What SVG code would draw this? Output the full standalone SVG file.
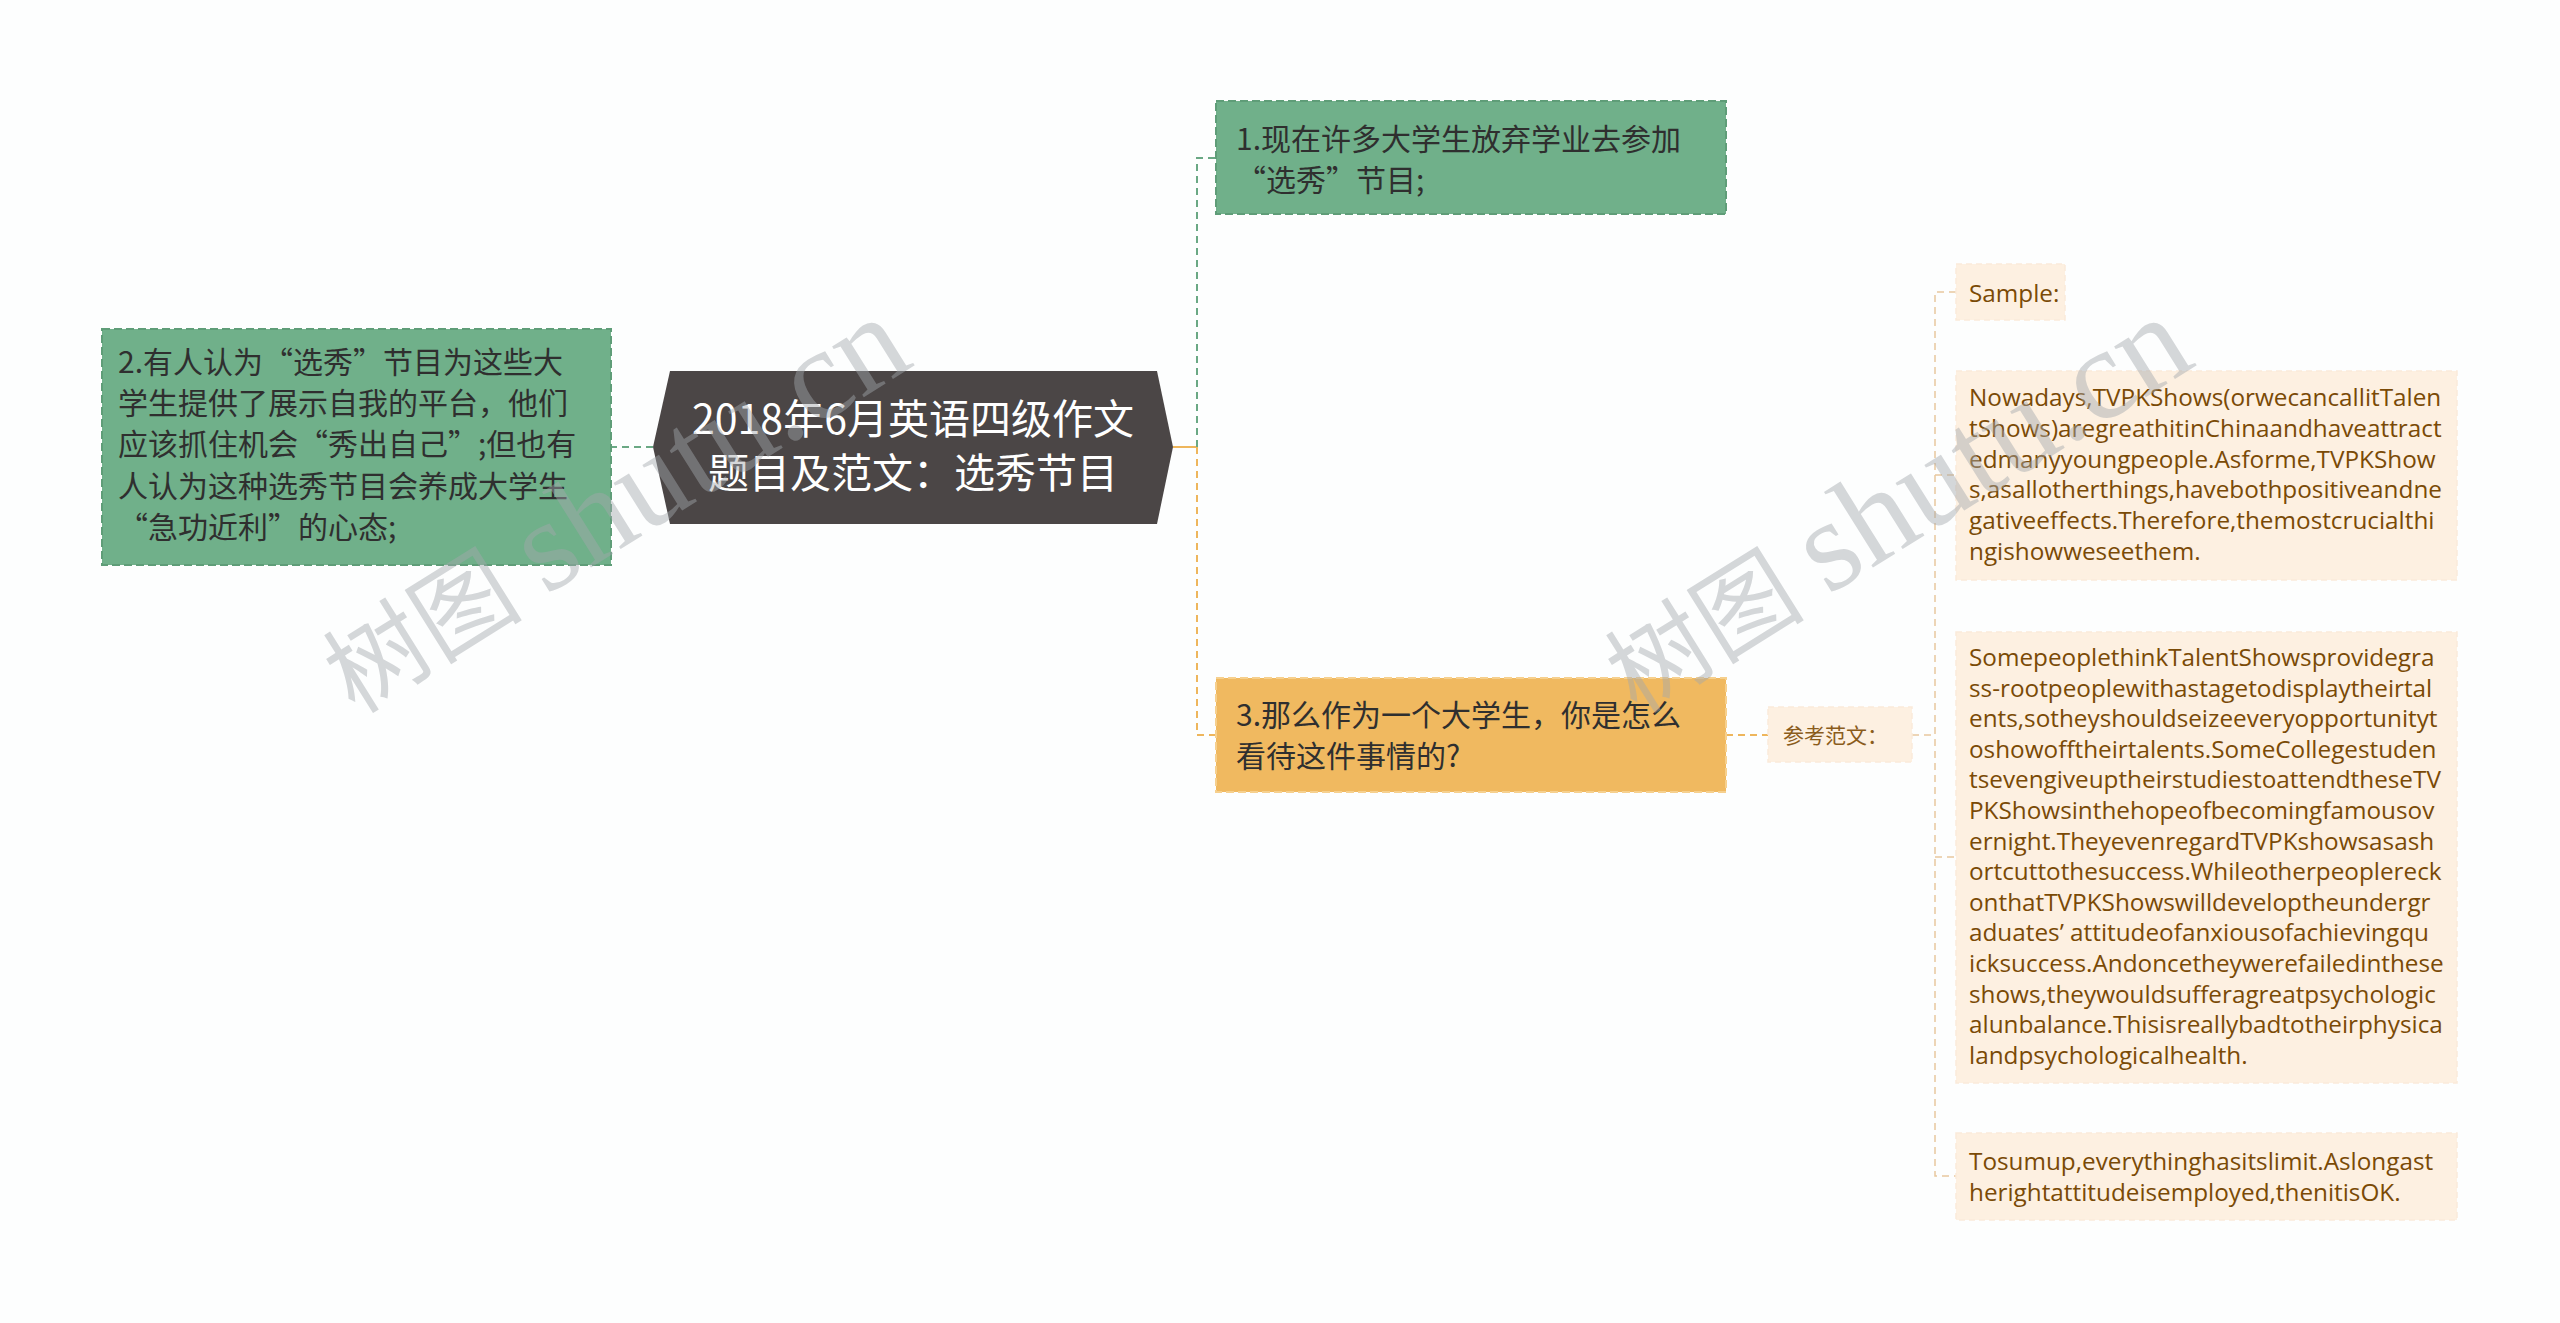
<svg xmlns="http://www.w3.org/2000/svg" width="2560" height="1323" viewBox="0 0 2560 1323">
<style>
.cn{font-family:"Noto Sans CJK SC","Noto Sans",sans-serif;}
.n-green{fill:#70b08a;stroke:#5f9d78;stroke-width:2;stroke-dasharray:8 4;}
.n-orange{fill:#f0b960;stroke:#f6d08e;stroke-width:2;stroke-dasharray:8 4;}
.n-peach{fill:#fdf0e1;stroke:#faeada;stroke-width:1.5;stroke-dasharray:6 4;}
.t-dark{fill:#2f2f2f;font-size:30px;}
.t-white{fill:#ffffff;font-size:41px;}
.t-brown{fill:#7a4a06;font-family:"Open Sans","Noto Sans",sans-serif;font-size:24.3px;}
.t-label{fill:#8a5c1c;font-size:21px;}
.c-green{fill:none;stroke:#6aa884;stroke-width:2;stroke-dasharray:7 5;}
.c-orange{fill:none;stroke:#eeb65c;stroke-width:2;stroke-dasharray:7 5;}
.c-tan{fill:none;stroke:#e8c89e;stroke-width:1.5;stroke-dasharray:7 5;}
.wm{fill:#a3a8ad;opacity:0.45;}
</style>
<rect width="2560" height="1323" fill="#fdfefe"/>

<g id="connectors">
  <path class="c-green" d="M653,447 H611"/>
  <path d="M1173,447 H1197" fill="none" stroke="#eeb65c" stroke-width="2"/>
  <path class="c-green" d="M1197,447 V158 H1216"/>
  <path class="c-orange" d="M1197,447 V735 H1216"/>
  <path class="c-orange" d="M1726,735 H1768"/>
  <path class="c-tan" d="M1912,735 H1935"/>
  <path class="c-tan" d="M1956,292 H1935 V1176 H1956"/>
  <path class="c-tan" d="M1935,475 H1956"/>
  <path class="c-tan" d="M1935,857 H1956"/>
</g>

<g id="root">
  <polygon points="653,447 670,371 1157,371 1173,447 1157,524 670,524" fill="#4b4646"/>
  <text class="cn t-white" text-anchor="middle" x="913" y="434">2018年6月英语四级作文</text>
  <text class="cn t-white" text-anchor="middle" x="913" y="488">题目及范文：选秀节目</text>
</g>

<g id="node2">
  <rect class="n-green" x="102" y="329" width="509" height="236"/>
  <text class="cn t-dark" x="118" y="373">2.有人认为“选秀”节目为这些大</text>
  <text class="cn t-dark" x="118" y="414">学生提供了展示自我的平台，他们</text>
  <text class="cn t-dark" x="118" y="455">应该抓住机会“秀出自己”;但也有</text>
  <text class="cn t-dark" x="118" y="497">人认为这种选秀节目会养成大学生</text>
  <text class="cn t-dark" x="118" y="538">“急功近利”的心态;</text>
</g>

<g id="node1">
  <rect class="n-green" x="1216" y="101" width="510" height="113"/>
  <text class="cn t-dark" x="1236" y="150">1.现在许多大学生放弃学业去参加</text>
  <text class="cn t-dark" x="1236" y="191">“选秀”节目;</text>
</g>

<g id="node3">
  <rect class="n-orange" x="1216" y="678" width="510" height="114"/>
  <text class="cn t-dark" x="1236" y="726">3.那么作为一个大学生，你是怎么</text>
  <text class="cn t-dark" x="1236" y="767">看待这件事情的?</text>
</g>

<g id="ref">
  <rect class="n-peach" x="1768" y="707" width="144" height="55"/>
  <text class="cn t-label" x="1783" y="743">参考范文：</text>
</g>

<g id="sample">
  <rect class="n-peach" x="1956" y="264" width="109" height="56"/>
  <text class="t-brown" x="1969" y="302">Sample:</text>
</g>

<g id="para1">
  <rect class="n-peach" x="1956" y="371" width="501" height="209"/>
  <text class="t-brown" x="1969" y="406">Nowadays,TVPKShows(orwecancallitTalen</text>
  <text class="t-brown" x="1969" y="437">tShows)aregreathitinChinaandhaveattract</text>
  <text class="t-brown" x="1969" y="468">edmanyyoungpeople.Asforme,TVPKShow</text>
  <text class="t-brown" x="1969" y="498">s,asallotherthings,havebothpositiveandne</text>
  <text class="t-brown" x="1969" y="529">gativeeffects.Therefore,themostcrucialthi</text>
  <text class="t-brown" x="1969" y="560">ngishowweseethem.</text>
</g>

<g id="para2">
  <rect class="n-peach" x="1956" y="632" width="501" height="451"/>
  <text class="t-brown" x="1969" y="666">SomepeoplethinkTalentShowsprovidegra</text>
  <text class="t-brown" x="1969" y="697">ss-rootpeoplewithastagetodisplaytheirtal</text>
  <text class="t-brown" x="1969" y="727">ents,sotheyshouldseizeeveryopportunityt</text>
  <text class="t-brown" x="1969" y="758">oshowofftheirtalents.SomeCollegestuden</text>
  <text class="t-brown" x="1969" y="788">tsevengiveuptheirstudiestoattendtheseTV</text>
  <text class="t-brown" x="1969" y="819">PKShowsinthehopeofbecomingfamousov</text>
  <text class="t-brown" x="1969" y="850">ernight.TheyevenregardTVPKshowsasash</text>
  <text class="t-brown" x="1969" y="880">ortcuttothesuccess.Whileotherpeoplereck</text>
  <text class="t-brown" x="1969" y="911">onthatTVPKShowswilldeveloptheundergr</text>
  <text class="t-brown" x="1969" y="941">aduates’  attitudeofanxiousofachievingqu</text>
  <text class="t-brown" x="1969" y="972">icksuccess.Andoncetheywerefailedinthese</text>
  <text class="t-brown" x="1969" y="1003">shows,theywouldsufferagreatpsychologic</text>
  <text class="t-brown" x="1969" y="1033">alunbalance.Thisisreallybadtotheirphysica</text>
  <text class="t-brown" x="1969" y="1064">landpsychologicalhealth.</text>
</g>

<g id="para3">
  <rect class="n-peach" x="1956" y="1133" width="501" height="87"/>
  <text class="t-brown" x="1969" y="1170">Tosumup,everythinghasitslimit.Aslongast</text>
  <text class="t-brown" x="1969" y="1201">herightattitudeisemployed,thenitisOK.</text>
</g>

<g id="watermarks">
  <text class="wm" transform="translate(355,715) rotate(-32)"><tspan font-family="Noto Sans CJK SC,sans-serif" font-size="100">树图</tspan><tspan font-family="Liberation Serif,serif" font-size="130" dx="25">shutu.cn</tspan></text>
  <text class="wm" transform="translate(1637,715) rotate(-32)"><tspan font-family="Noto Sans CJK SC,sans-serif" font-size="100">树图</tspan><tspan font-family="Liberation Serif,serif" font-size="130" dx="25">shutu.cn</tspan></text>
</g>
</svg>
